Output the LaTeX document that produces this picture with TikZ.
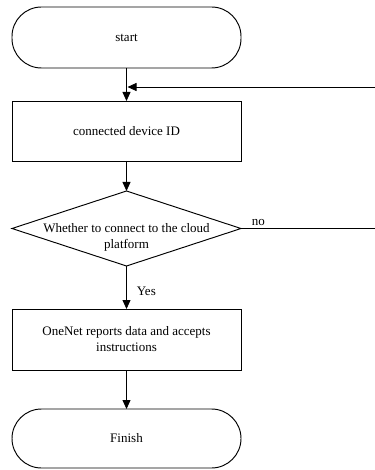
\documentclass[tikz,border=0pt]{standalone}
\usepackage{fontspec}
\setmainfont{Liberation Serif}
\usetikzlibrary{arrows.meta,shapes.geometric}
\begin{document}
\begin{tikzpicture}[x=1pt,y=-1pt,
  font=\fontsize{13}{16}\selectfont,
  term/.style={draw,line width=0.95pt,rounded corners=29.5pt,minimum width=229pt,minimum height=#1,inner sep=0pt,outer sep=0pt},
  proc/.style={draw,line width=0.95pt,minimum width=229pt,minimum height=#1,inner sep=0pt,outer sep=0pt,align=center},
  deci/.style={draw,line width=0.95pt,diamond,minimum width=229pt,minimum height=75pt,inner sep=0pt,outer sep=0pt},
  conn/.style={line width=0.8pt,-{Triangle[length=9pt,width=8pt]}},
  plain/.style={line width=0.8pt}]
\useasboundingbox (0,0) rectangle (374,470);
\node[term=61pt] (start) at (126.5,37.5) {start};
\node[proc=60pt] (dev) at (126.5,131) {connected device ID};
\node[deci] (dec) at (126.5,228.5) {};
\node[align=center,inner sep=0pt] (dectext) at (126.5,237) {Whether to connect to the cloud\\platform};
\node[proc=61pt] (rep) at (126.5,339.5) {OneNet reports data and accepts\\instructions};
\node[term=59pt] (fin) at (126.5,438.5) {Finish};
\coordinate (c1) at (375.5,228.5);
\coordinate (c2) at (375.5,87);
\coordinate (c3) at (127.5,87);
\draw[conn] (start) -- (dev);
\draw[conn] (dev) -- (dec);
\draw[conn] (dec) -- node[pos=0.58,anchor=west,inner sep=0pt,xshift=10pt] (yes) {Yes} (rep);
\draw[conn] (rep) -- (fin);
\draw[plain] (dec.east) -- node[pos=0.13,anchor=south,inner sep=0pt,yshift=2pt] (no) {no} (c1) -- (c2);
\draw[conn] (c2) -- (c3);
\end{tikzpicture}
\end{document}
